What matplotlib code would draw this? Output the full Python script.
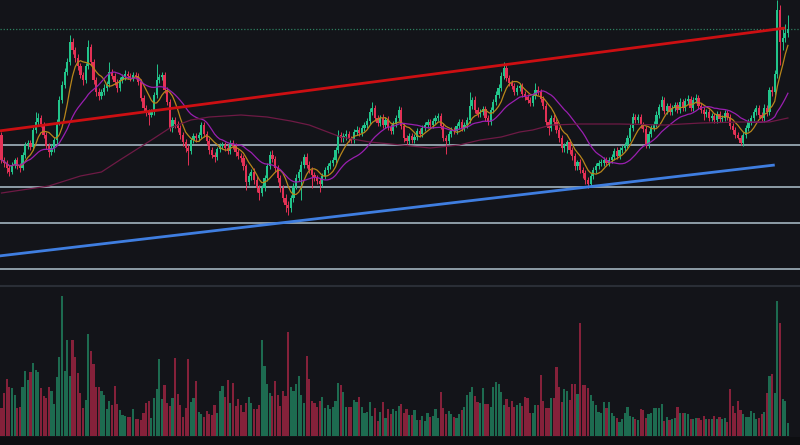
import numpy as np
import pandas as pd
import matplotlib
matplotlib.use("Agg")
import matplotlib.pyplot as plt
from matplotlib.lines import Line2D
from matplotlib.patches import Rectangle

# candle data (price units are arbitrary)
first_open = 165
close = [
    140, 137, 132, 128, 135, 140, 134, 132, 145, 155,
    157, 153, 170, 178, 182, 176, 165, 154, 148, 152,
    160, 178, 200, 215, 228, 238, 258, 250, 242, 234,
    225, 220, 234, 253, 238, 220, 208, 204, 208, 212,
    216, 228, 224, 218, 212, 220, 223, 226, 224, 222,
    225, 224, 218, 202, 192, 188, 185, 188, 205, 220,
    223, 225, 210, 198, 172, 180, 176, 172, 165, 158,
    152, 149, 160, 164, 162, 165, 175, 166, 159, 150,
    145, 143, 151, 154, 155, 152, 149, 157, 154, 148,
    144, 142, 134, 118, 124, 128, 120, 112, 107, 112,
    122, 134, 145, 141, 132, 122, 112, 102, 95, 92,
    102, 114, 122, 128, 135, 143, 135, 130, 125, 122,
    119, 116, 124, 130, 134, 137, 140, 150, 165, 162,
    164, 166, 161, 160, 168, 170, 167, 172, 175, 179,
    188, 192, 182, 177, 182, 175, 180, 173, 169, 176,
    182, 190, 174, 162, 159, 164, 160, 163, 169, 166,
    172, 175, 178, 175, 179, 182, 184, 174, 162, 159,
    166, 170, 169, 174, 178, 172, 175, 180, 194, 200,
    190, 186, 188, 191, 182, 178, 190, 198, 205, 212,
    224, 232, 222, 217, 214, 208, 212, 214, 206, 203,
    200, 197, 204, 210, 208, 201, 194, 178, 172, 182,
    178, 170, 162, 152, 155, 158, 150, 144, 134, 138,
    130, 127, 120, 116, 124, 130, 134, 137, 137, 140,
    137, 140, 143, 149, 144, 150, 152, 155, 162, 172,
    183, 180, 183, 175, 171, 155, 166, 172, 176, 185,
    193, 200, 189, 194, 188, 192, 195, 190, 198, 192,
    199, 201, 192, 200, 202, 194, 190, 186, 188, 182,
    184, 180, 186, 181, 182, 187, 183, 174, 170, 165,
    162, 157, 165, 172, 178, 182, 188, 192, 185, 182,
    192, 188, 210, 208, 226, 290, 258, 262, 267, 271,
]
high = [
    168, 143, 140, 135, 138, 142, 143, 137, 148, 158,
    160, 160, 173, 188, 187, 185, 178, 168, 157, 156,
    163, 181, 204, 219, 232, 242, 265, 262, 253, 246,
    237, 228, 237, 260, 256, 241, 223, 212, 211, 216,
    219, 238, 231, 227, 221, 223, 226, 230, 229, 227,
    228, 228, 227, 221, 205, 195, 191, 191, 208, 236,
    226, 228, 228, 213, 201, 183, 183, 179, 175, 168,
    161, 155, 162, 167, 167, 168, 178, 178, 169, 162,
    153, 148, 153, 157, 158, 158, 156, 160, 160, 157,
    151, 147, 145, 136, 127, 131, 132, 124, 115, 115,
    125, 137, 149, 150, 144, 135, 125, 115, 106, 99,
    105, 117, 126, 131, 139, 146, 147, 139, 133, 128,
    125, 122, 127, 133, 137, 140, 143, 153, 170, 168,
    167, 170, 169, 164, 171, 174, 173, 175, 178, 182,
    192, 198, 195, 185, 185, 186, 183, 184, 176, 179,
    185, 194, 193, 177, 165, 167, 167, 166, 172, 172,
    175, 178, 181, 181, 182, 185, 187, 187, 177, 165,
    169, 173, 173, 177, 181, 181, 178, 183, 208, 203,
    204, 193, 191, 194, 194, 185, 193, 201, 209, 216,
    228, 238, 235, 225, 220, 217, 215, 217, 217, 209,
    206, 203, 207, 217, 214, 211, 204, 197, 181, 185,
    186, 181, 173, 165, 157, 160, 161, 153, 147, 140,
    141, 133, 130, 123, 127, 133, 137, 140, 141, 143,
    143, 143, 146, 152, 153, 153, 155, 158, 165, 176,
    187, 186, 186, 186, 178, 174, 169, 175, 179, 189,
    196, 204, 203, 197, 197, 195, 198, 198, 202, 201,
    202, 205, 204, 203, 206, 205, 197, 193, 191, 191,
    187, 187, 189, 189, 185, 190, 190, 186, 177, 173,
    168, 165, 168, 175, 181, 185, 191, 195, 195, 188,
    196, 195, 213, 214, 230, 300, 295, 272, 276, 285,
]
low = [
    137, 133, 127, 124, 126, 132, 131, 128, 130, 142,
    151, 150, 150, 167, 175, 173, 162, 151, 143, 145,
    148, 156, 175, 197, 212, 225, 235, 246, 238, 230,
    222, 215, 217, 231, 235, 216, 204, 200, 201, 205,
    209, 213, 221, 215, 208, 209, 217, 220, 221, 219,
    219, 221, 215, 199, 189, 184, 175, 183, 185, 202,
    217, 220, 207, 195, 169, 168, 172, 168, 161, 154,
    148, 135, 146, 157, 158, 159, 162, 163, 155, 146,
    142, 138, 140, 148, 151, 149, 146, 146, 151, 144,
    141, 138, 130, 110, 115, 120, 116, 108, 100, 104,
    109, 119, 131, 138, 128, 118, 108, 98, 88, 85,
    88, 98, 111, 119, 100, 132, 132, 127, 112, 119,
    116, 108, 113, 121, 127, 131, 134, 137, 147, 158,
    158, 160, 158, 157, 157, 165, 164, 164, 169, 172,
    176, 185, 179, 174, 174, 172, 172, 170, 166, 166,
    173, 179, 171, 158, 155, 156, 157, 157, 160, 163,
    163, 169, 172, 172, 172, 176, 179, 171, 159, 146,
    156, 163, 166, 166, 171, 169, 169, 172, 177, 191,
    187, 183, 183, 185, 179, 175, 175, 187, 195, 202,
    209, 221, 219, 214, 211, 205, 205, 209, 203, 200,
    197, 194, 194, 201, 205, 198, 191, 175, 165, 169,
    175, 167, 158, 148, 148, 147, 146, 140, 130, 130,
    127, 122, 116, 112, 113, 121, 127, 131, 134, 134,
    134, 134, 137, 140, 141, 141, 147, 149, 152, 159,
    169, 177, 177, 172, 168, 152, 152, 163, 169, 173,
    182, 190, 186, 186, 185, 185, 189, 187, 187, 189,
    189, 196, 189, 189, 197, 191, 187, 180, 183, 179,
    179, 177, 177, 178, 178, 179, 180, 171, 166, 162,
    161, 155, 154, 162, 169, 175, 179, 185, 182, 179,
    178, 184, 185, 204, 205, 222, 235, 250, 258, 263,
]
volume = [
    83, 130, 170, 146, 143, 123, 83, 88, 146, 196,
    168, 193, 220, 198, 193, 143, 120, 113, 146, 136,
    96, 176, 236, 420, 196, 288, 180, 288, 236, 188,
    128, 85, 108, 306, 255, 216, 146, 146, 136, 123,
    80, 105, 93, 149, 96, 78, 63, 60, 58, 58,
    80, 51, 50, 48, 68, 100, 105, 53, 115, 140,
    230, 111, 153, 98, 91, 115, 233, 126, 93, 57,
    83, 230, 101, 113, 165, 73, 66, 58, 76, 66,
    63, 93, 68, 136, 150, 116, 168, 100, 158, 90,
    110, 93, 73, 100, 118, 98, 80, 80, 93, 288,
    210, 156, 128, 120, 165, 123, 91, 135, 120, 313,
    148, 136, 156, 180, 123, 98, 240, 170, 105, 100,
    88, 106, 116, 85, 93, 80, 86, 105, 158, 153,
    133, 86, 86, 86, 108, 103, 118, 88, 68, 73,
    103, 60, 83, 46, 73, 103, 53, 80, 66, 80,
    75, 90, 95, 68, 80, 63, 63, 78, 48, 48,
    60, 46, 68, 58, 60, 80, 53, 131, 85, 66,
    74, 66, 58, 53, 66, 78, 88, 123, 133, 148,
    120, 103, 100, 143, 96, 95, 86, 148, 161, 155,
    133, 93, 110, 86, 105, 86, 93, 100, 90, 116,
    113, 68, 70, 92, 93, 182, 105, 85, 85, 113,
    115, 208, 146, 103, 140, 136, 108, 156, 155, 125,
    338, 153, 153, 143, 123, 106, 93, 71, 70, 102,
    85, 102, 68, 60, 53, 43, 51, 68, 86, 60,
    56, 51, 48, 80, 78, 53, 66, 68, 83, 83,
    85, 96, 46, 58, 48, 50, 53, 88, 68, 70,
    68, 66, 50, 51, 53, 53, 48, 61, 50, 51,
    50, 61, 51, 58, 51, 53, 43, 140, 90, 68,
    105, 78, 66, 58, 58, 76, 68, 50, 53, 66,
    73, 128, 181, 186, 128, 405, 340, 111, 105, 38,
]

# slow moving average as shown (its history starts before the visible window)
ma_long_idx = [0, 18, 30, 38, 45, 51, 57, 64, 72, 79, 91, 101, 110, 117, 129,
               140, 152, 163, 174, 182, 190, 197, 202, 209, 220, 235, 252, 266,
               281, 292, 299]
ma_long = [107, 114, 124, 128, 140, 150, 160, 172, 180, 183, 185, 183, 179, 175,
           163, 158, 155, 152, 155, 160, 163, 168, 170, 175, 176, 176, 175, 177,
           178, 178, 182]

levels = [155, 113, 77, 31]
red_trend_idx, red_trend = [-1, 298], [169, 272]
blue_trend_idx, blue_trend = [-1, 294], [44, 135]

bg = "#131419"
up_c, dn_c = "#22c58b", "#e33155"
vol_up, vol_dn = "#1d6b50", "#85213a"

close = np.array(close, dtype=float)
high = np.array(high, dtype=float)
low = np.array(low, dtype=float)
open_ = np.r_[first_open, close[:-1]]
idx = np.arange(len(close))
up = close >= open_

s = pd.Series(close)
ma_fast = s.rolling(7, min_periods=1).mean()
ma_mid = s.rolling(20, min_periods=1).mean()

fig = plt.figure(figsize=(8, 4.45), dpi=100, facecolor=bg)
H = 445.0
ax = fig.add_axes([0, 162 / H, 1, 283 / H])
axv = fig.add_axes([0, 9 / H, 1, 148 / H])
for a in (ax, axv):
    a.set_axis_off()
    a.set_xlim(-0.57, 303.6)
ax.set_ylim(17, 300)
axv.set_ylim(0, 444)

# horizontal levels and last price
for lv in levels:
    ax.axhline(lv, color="#a3b4bf", lw=1.2, zorder=1)
ax.axhline(close[-1], color="#2e8060", lw=0.9, ls=(0, (1, 1.5)), zorder=1)

# candles
cols = np.where(up, up_c, dn_c)
ax.vlines(idx, low, high, colors=cols, lw=0.7, zorder=2)
body_lo = np.minimum(open_, close)
body_h = np.maximum(np.abs(close - open_), 0.8)
ax.bar(idx, body_h, bottom=body_lo, width=0.84, color=cols, lw=0, zorder=2)

# moving averages
ax.plot(idx, ma_fast, color="#b8861b", lw=0.9, zorder=3)
ax.plot(idx, ma_mid, color="#9a1fb0", lw=0.9, zorder=3)
ax.plot(ma_long_idx, ma_long, color="#6e1a45", lw=0.9, zorder=3)

# trend lines
ax.plot(red_trend_idx, red_trend, color="#cc0f12", lw=2.0, zorder=4,
        solid_capstyle="butt")
ax.plot(blue_trend_idx, blue_trend, color="#3f7ee0", lw=2.0, zorder=4,
        solid_capstyle="butt")

# volume
axv.bar(idx, volume, width=0.82, color=np.where(up, vol_up, vol_dn), lw=0)

# pane separator and bottom strip
fig.add_artist(Line2D([0, 1], [1 - 285.5 / H] * 2, color="#2a2e36", lw=1.5))
fig.add_artist(Rectangle((0, 0), 1, 8.5 / H, color="#0d0e11", lw=0))

fig.savefig("out.png", dpi=100, facecolor=bg)
